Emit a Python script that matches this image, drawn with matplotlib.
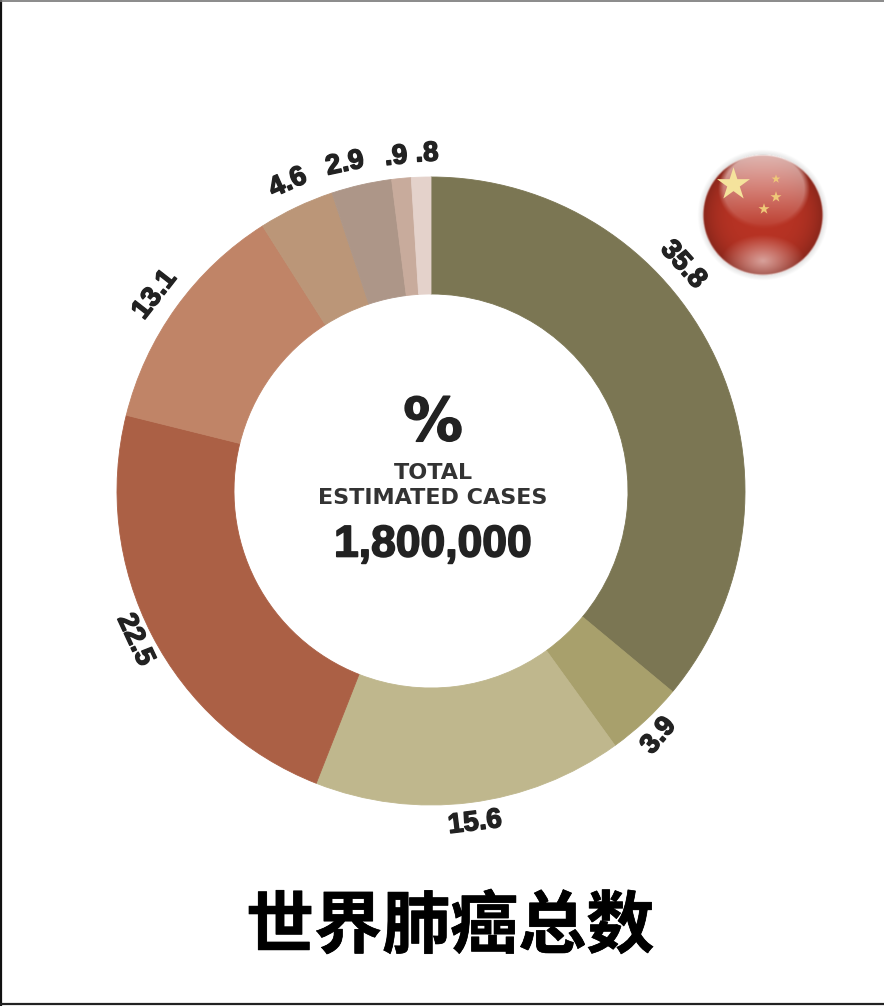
import numpy as np
import matplotlib
matplotlib.use('Agg')
import matplotlib.pyplot as plt
import matplotlib.patheffects as pe

W, H = 884, 1006

# データ
# 扇形の比率(図から読み取り、印字された数字とは少しずれている)
shares = [36.0, 4.0, 15.9, 22.9, 12.1, 3.9, 3.1, 1.0, 1.0]
labels = ["35.8", "3.9", "15.6", "22.5", "13.1", "4.6", "2.9", ".9", ".8"]
colors = ["#7b7653", "#a8a06c", "#bfb78d", "#ab6045", "#c08467",
          "#bb9678", "#ad9688", "#c8ab9c", "#e4d2cb"]
# ラベルの位置(ピクセル)と回転
label_x = [683, 659, 475, 135, 155, 288, 345, 396, 427]
label_y = [265, 736, 823, 640, 295, 183, 164, 157, 154]
label_rot = [-48, 50, 7, -65, 52, 24, 12, 6, 3]

plt.rcParams['font.family'] = ['Noto Sans CJK SC', 'DejaVu Sans']


def heavy(w, c="#222222"):
    return [pe.withStroke(linewidth=w, foreground=c)]


def py(y):
    # 画像のy座標を軸のy座標に変換
    return H - y


fig = plt.figure(figsize=(W / 100, H / 100), dpi=100)
ax = fig.add_axes([0, 0, 1, 1])

# ドーナツ
cx, cy, r_out, r_in = 431, 491, 314, 197
wedges, _ = ax.pie(shares, colors=colors, startangle=90, counterclock=False,
                   center=(cx, py(cy)), radius=r_out,
                   wedgeprops={"width": r_out - r_in, "linewidth": 0.6})
for w, c in zip(wedges, colors):
    w.set_edgecolor(c)

for s, x, y, rot in zip(labels, label_x, label_y, label_rot):
    ax.text(x, py(y), s, fontsize=20, fontweight='bold', color="#222222",
            family='Liberation Sans', rotation=rot, rotation_mode='anchor',
            ha='center', va='center', path_effects=heavy(1.0))

# 中央の文字
ax.text(433, py(424), "%", fontsize=43, fontweight='bold', color="#222222",
        family='DejaVu Sans', ha='center', va='center', path_effects=heavy(1.0))
ax.text(433, py(473), "TOTAL", fontsize=16, fontweight='bold', color="#333333",
        family='DejaVu Sans', ha='center', va='center')
ax.text(433, py(498), "ESTIMATED CASES", fontsize=16, fontweight='bold', color="#333333",
        family='DejaVu Sans', ha='center', va='center')
ax.text(433, py(545), "1,800,000", fontsize=32, fontweight='bold', color="#222222",
        family='Liberation Sans', ha='center', va='center', path_effects=heavy(1.2))

# タイトル
ax.text(450, py(928), "世界肺癌总数", fontsize=49, fontweight='black', color="black",
        ha='center', va='center', path_effects=heavy(0.5, "black"))

# 国旗(球)
fx, fy, fr = 763, 215, 60
n = 240
xs = np.linspace(fx - fr - 6, fx + fr + 6, n)
ys = np.linspace(fy - fr - 6, fy + fr + 6, n)
xx, yy = np.meshgrid(xs, ys)
dist = np.hypot(xx - fx, yy - fy) / fr
rgb = np.ones((n, n, 3)) * np.array([0.72, 0.20, 0.14])
rgb *= (1 - 0.25 * np.clip(dist, 0, 1) ** 4)[..., None]
# 上のハイライト
top = np.clip((1 - np.hypot((xx - (fx + 1)) / 46, (yy - (fy - 26)) / 40)) * 8, 0, 1)
glow = np.clip(0.72 - (yy - (fy - 60)) / 72 * 0.66, 0.06, 0.8) * top
rgb = rgb * (1 - glow[..., None]) + glow[..., None] * np.array([1.0, 0.93, 0.92])
# 下のハイライト
low = np.clip(1 - np.hypot((xx - fx) / 42, (yy - (fy + 46)) / 26), 0, 1) * 0.55
rgb = rgb * (1 - low[..., None]) + low[..., None]
alpha = np.clip((fr + 1 - dist * fr) / 2, 0, 1)
# 周りの薄い影
shadow = np.clip((fr + 6 - dist * fr) / 6, 0, 1) * 0.12
rgba = np.dstack([rgb * (alpha > 0)[..., None], np.maximum(alpha, shadow)])
ax.imshow(rgba, extent=(xs[0], xs[-1], py(ys[-1]), py(ys[0])), zorder=3,
          interpolation='bilinear', aspect='equal')
ax.scatter([733], [py(184)], marker='*', s=620, color='#f5e39c', lw=0, zorder=5)
ax.scatter([776, 776, 764], [py(179), py(197), py(209)], marker='*', s=[45, 70, 70],
           color='#efc878', lw=0, zorder=5)

# 枠線
ax.plot([1, 1], [0, H], color='#111111', lw=1.6, zorder=6)
ax.plot([0, W], [py(1003.5), py(1003.5)], color='#222222', lw=1.6, zorder=6)
ax.plot([0, W], [py(0.5), py(0.5)], color='#777777', lw=1.2, zorder=6)

ax.set_xlim(0, W)
ax.set_ylim(0, H)
ax.set_aspect('equal')
ax.axis('off')

plt.savefig("out.png", dpi=100)
